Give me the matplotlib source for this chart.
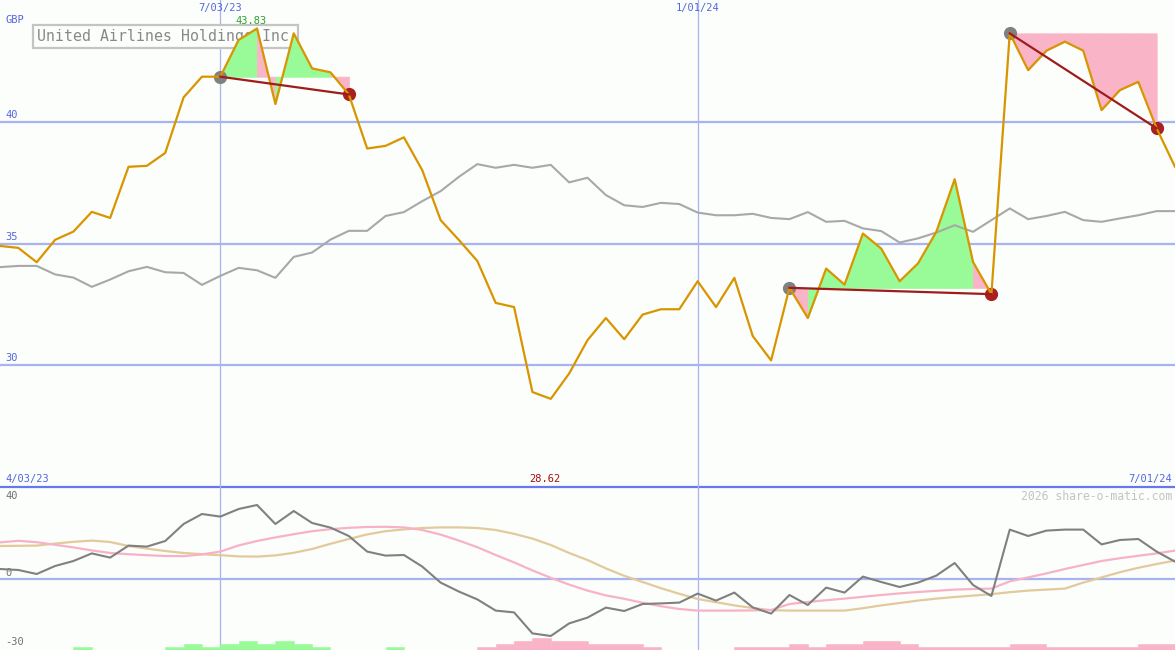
import numpy as np
import matplotlib.pyplot as plt
from matplotlib.patches import Rectangle
from matplotlib.transforms import blended_transform_factory

plt.rcParams['font.family'] = ['DejaVu Sans Mono']

# Titre et libellés
company = "United Airlines Holdings Inc"
currency = "GBP"
date_labels = ["7/03/23", "1/01/24"]
date_pos = [12, 38]
start_label = "4/03/23"
end_label = "7/01/24"
watermark = "2026 share-o-matic.com"

# Cours hebdomadaire (GBP)
price = [34.90, 34.82, 34.23, 35.15, 35.49, 36.30, 36.05, 38.15, 38.19, 38.72,
         41.00, 41.85, 41.85, 43.36, 43.83, 40.73, 43.63, 42.19, 42.03, 41.12,
         38.90, 39.01, 39.36, 38.01, 35.96, 35.14, 34.28, 32.56, 32.39, 28.90,
         28.62, 29.66, 31.03, 31.94, 31.07, 32.08, 32.30, 32.30, 33.45, 32.39,
         33.59, 31.20, 30.20, 33.18, 31.94, 33.97, 33.31, 35.41, 34.79, 33.45,
         34.18, 35.48, 37.64, 34.24, 32.92, 43.63, 42.12, 42.92, 43.29, 42.92,
         40.48, 41.30, 41.64, 39.73, 38.15]

# Courbe grise (moyenne)
avg_line = [34.03, 34.08, 34.08, 33.73, 33.60, 33.22, 33.52, 33.86, 34.04, 33.82,
            33.79, 33.30, 33.67, 34.00, 33.90, 33.59, 34.45, 34.63, 35.16, 35.52,
            35.52, 36.13, 36.29, 36.74, 37.15, 37.74, 38.26, 38.11, 38.23, 38.11,
            38.23, 37.51, 37.70, 36.99, 36.57, 36.50, 36.67, 36.62, 36.27, 36.16,
            36.16, 36.22, 36.05, 36.00, 36.29, 35.89, 35.93, 35.62, 35.51, 35.04,
            35.21, 35.45, 35.75, 35.48, 35.96, 36.44, 36.00, 36.13, 36.30, 35.96,
            35.89, 36.03, 36.16, 36.33, 36.33]

# Panneau du bas : momentum + deux lissages
momentum = [5.0, 4.5, 2.5, 6.5, 9.0, 12.8, 10.7, 16.7, 16.2, 19.0,
            27.5, 32.5, 31.2, 35.0, 37.0, 27.5, 34.0, 28.0, 25.7, 21.5,
            13.7, 11.7, 12.0, 6.2, -1.8, -6.3, -10.2, -15.8, -16.7, -27.2,
            -28.5, -22.2, -19.3, -14.3, -16.0, -12.5, -12.2, -11.8, -7.3, -10.8,
            -6.8, -14.2, -17.3, -8.0, -13.0, -4.3, -6.8, 1.2, -1.5, -4.0,
            -1.8, 1.7, 8.0, -3.0, -8.5, 24.7, 21.5, 24.2, 24.7, 24.7,
            17.3, 19.5, 20.0, 13.7, 8.7]

smooth_pink = [18.3, 19.1, 18.4, 17.1, 15.8, 14.3, 13.0, 12.4, 11.9, 11.5,
               11.4, 12.3, 13.7, 16.8, 19.0, 20.8, 22.4, 23.9, 24.9, 25.6,
               26.0, 26.1, 25.8, 24.5, 22.2, 19.2, 15.9, 12.0, 8.3, 4.3,
               0.6, -2.8, -5.8, -8.2, -9.9, -11.9, -13.6, -15.0, -15.8, -15.8,
               -15.8, -15.7, -15.5, -12.5, -11.5, -10.6, -9.8, -8.9, -8.0, -7.2,
               -6.5, -5.9, -5.3, -5.0, -4.8, -1.2, 0.8, 2.8, 5.0, 7.0,
               9.0, 10.4, 11.6, 12.8, 14.2]

smooth_tan = [16.5, 16.6, 16.7, 17.7, 18.6, 19.2, 18.5, 16.5, 15.2, 14.0,
              13.0, 12.4, 11.9, 11.3, 11.2, 11.8, 13.1, 15.0, 17.6, 20.0,
              22.3, 23.9, 24.8, 25.5, 25.8, 25.8, 25.5, 24.5, 22.6, 20.2,
              17.0, 13.0, 9.5, 5.3, 1.6, -1.5, -4.6, -7.4, -10.0, -11.6,
              -13.2, -14.5, -15.6, -15.8, -15.8, -15.8, -15.8, -14.6, -13.2, -12.0,
              -10.8, -9.8, -9.0, -8.3, -7.6, -6.6, -5.8, -5.3, -4.8, -1.8,
              0.8, 3.4, 5.6, 7.5, 9.2]

# Barres du bas (positif = vert, négatif = rose), une par semaine
bar_levels = [0, 0, 0, 0, 1, 0, 0, 0, 0, 1,
              2, 1, 2, 3, 2, 3, 2, 1, 0, 0,
              0, 1, 0, 0, 0, 0, -1, -2, -3, -4,
              -3, -3, -2, -2, -2, -1, 0, 0, 0, 0,
              -1, -1, -1, -2, -1, -2, -2, -3, -3, -2,
              -1, -1, -1, -1, -1, -2, -2, -1, -1, -1,
              -1, -1, -2, -2]

# Segments de tendance (début, fin)
segments = [(12, 19), (43, 54), (55, 63)]

price_ticks = [40, 35, 30]
mom_ticks = [40, 0, -30]

bg = '#fbfefb'
grid_blue = '#a8b4f0'
label_blue = '#5565e0'
orange = '#d99500'
green_fill = '#98fb98'
pink_fill = '#fab4c8'

x = np.arange(len(price))
p = np.array(price)

fig = plt.figure(figsize=(11.75, 6.5), dpi=100, facecolor=bg)
ax = fig.add_axes([0, 163 / 650, 1, 487 / 650])
ax2 = fig.add_axes([0, 0, 1, 163 / 650])
for a in (ax, ax2):
    a.set_axis_off()
    a.set_xlim(0, len(price) - 1)
ax.set_ylim(25, 45)
ax2.set_ylim(-35.5, 46)

# Grilles
for t in price_ticks:
    ax.axhline(t, color=grid_blue, lw=1.6, zorder=1)
ax.axhline(25, color='#6878ea', lw=1.6, zorder=1, clip_on=False)
ax2.axhline(0, color=grid_blue, lw=1.6, zorder=1)
for d in date_pos:
    ax.axvline(d, color=grid_blue, lw=0.9, zorder=1)
    ax2.axvline(d, color=grid_blue, lw=0.9, zorder=1)

# Cadre du titre
ax.add_patch(Rectangle((33 / 1175, 1 - 48 / 487), 265 / 1175, 23 / 487,
                       transform=ax.transAxes, facecolor=bg, edgecolor='#c4c4c4',
                       lw=1.6, zorder=1.5))
ax.text(37 / 1175, 1 - 36.5 / 487, company, transform=ax.transAxes,
        fontsize=10.7, color='#888888', va='center', ha='left', zorder=1.6)

# Remplissages des segments (couleur selon la fin de chaque intervalle)
for s, e in segments:
    level = p[s]
    for k in range(s, e):
        col = green_fill if p[k + 1] > level else pink_fill
        ax.fill_between(x[k:k + 2], p[k:k + 2], level, facecolor=col,
                        edgecolor=col, lw=0.6, zorder=2)

ax.plot(x, avg_line, color='#a8a8a8', lw=1.5, zorder=3)

for s, e in segments:
    ax.plot([x[s]], [p[s]], 'o', color='#808080', ms=8.5, zorder=4)
    ax.plot([x[e]], [p[e]], 'o', color='#a82020', ms=8.5, zorder=4)

ax.plot(x, p, color=orange, lw=1.6, zorder=5)

for s, e in segments:
    ax.plot([x[s], x[e]], [p[s], p[e]], color='#a01c1c', lw=1.6, zorder=6)

# Max / min
imax = int(np.argmax(p))
imin = int(np.argmin(p))
ax.text(x[imax] - 0.3, 45 - 21 / 24.35, f"{p[imax]:.2f}", color='#30a030',
        fontsize=7.5, ha='center', va='center', zorder=7)
ax.text(x[imin] - 0.3, 1 - 479 / 487, f"{p[imin]:.2f}", color='#a01010',
        fontsize=7.5, ha='center', va='center', zorder=7,
        transform=blended_transform_factory(ax.transData, ax.transAxes))

# Libellés haut
tr = blended_transform_factory(ax.transAxes, ax.transData)
for t in price_ticks:
    ax.text(5 / 1175, t + 0.08, str(t), transform=tr, fontsize=7.5,
            color=label_blue, ha='left', va='bottom')
ax.text(5 / 1175, 1 - 20 / 487, currency, transform=ax.transAxes, fontsize=7.5,
        color=label_blue, ha='left', va='center')
trd = blended_transform_factory(ax.transData, ax.transAxes)
for lab, d in zip(date_labels, date_pos):
    ax.text(d, 1 - 8 / 487, lab, transform=trd, fontsize=7.5, color=label_blue,
            ha='center', va='center')
ax.text(5 / 1175, 1 - 479 / 487, start_label, transform=ax.transAxes, fontsize=7.5,
        color=label_blue, ha='left', va='center')
ax.text(1 - 3 / 1175, 1 - 479 / 487, end_label, transform=ax.transAxes, fontsize=7.5,
        color=label_blue, ha='right', va='center')

# Panneau du bas
lv = np.array(bar_levels)
xb = np.arange(len(lv)) + 0.5
cols = [green_fill if v > 0 else pink_fill for v in lv]
ax2.bar(xb, np.abs(lv) * 1.5, width=1.0, bottom=-35.5, color=cols,
        edgecolor=cols, lw=0.4, zorder=2)

ax2.plot(x, smooth_tan, color='#e2ca9c', lw=1.6, zorder=3)
ax2.plot(x, smooth_pink, color='#f8b2c8', lw=1.6, zorder=3)
ax2.plot(x, momentum, color='#808080', lw=1.5, zorder=4)

for t, yy in zip(mom_ticks, [496, 573, 642]):
    ax2.text(5 / 1175, (650 - yy) / 163, str(t), transform=ax2.transAxes,
             fontsize=7.5, color='#707070', ha='left', va='center')
ax2.text(1 - 3 / 1175, (650 - 496) / 163, watermark, transform=ax2.transAxes,
         fontsize=8.3, color='#c4c4c4', ha='right', va='center')

plt.savefig("out.png", dpi=100, facecolor=bg)
